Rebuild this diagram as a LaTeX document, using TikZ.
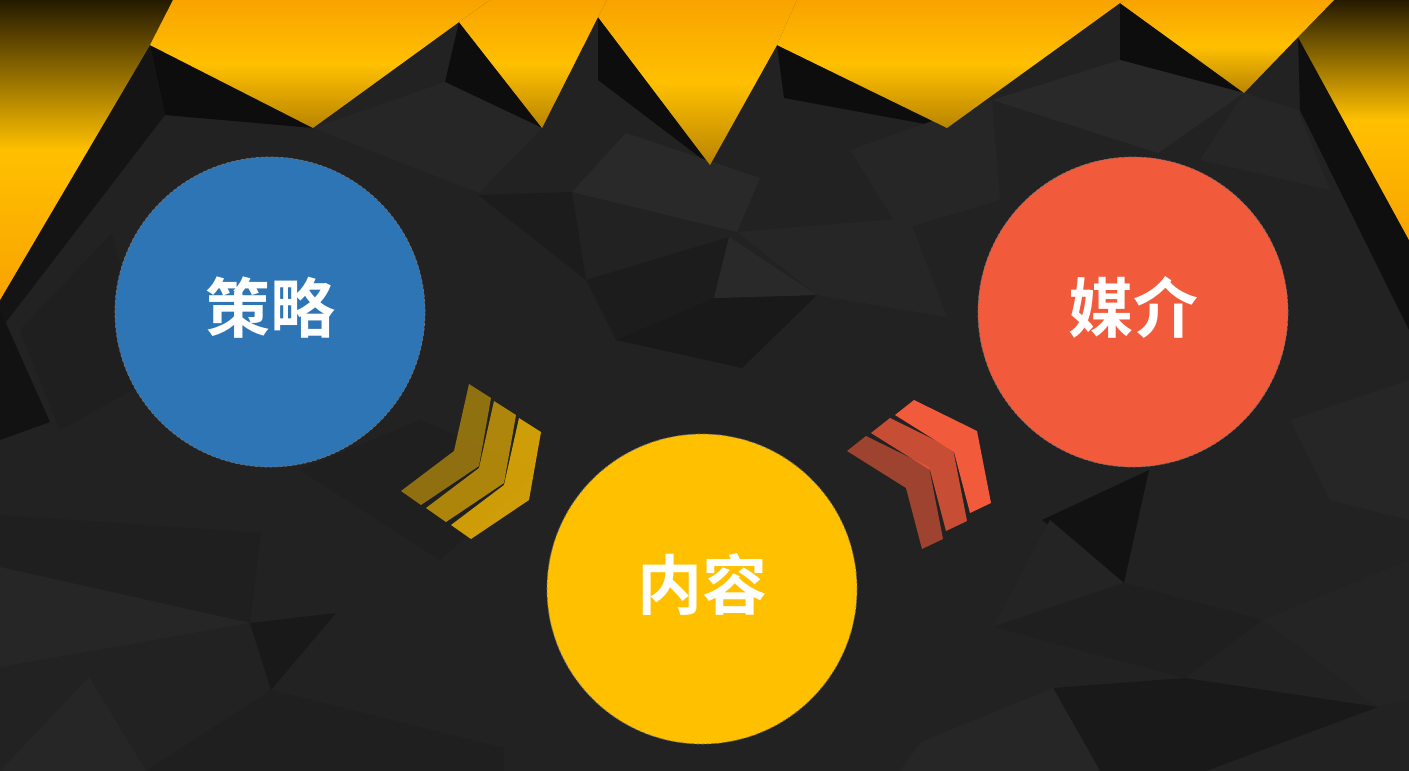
\documentclass[tikz,border=0pt]{standalone}
\usepackage{fontspec}
\newfontfamily\cjk{Noto Sans CJK SC}[BoldFont={Noto Sans CJK SC Bold}]

\definecolor{bggray}{HTML}{222222}
\definecolor{strategyblue}{HTML}{2E75B6}
\definecolor{contentyellow}{HTML}{FFC000}
\definecolor{mediared}{HTML}{F15A3A}
\definecolor{bandorange}{HTML}{F9A300}
\definecolor{banddark}{HTML}{B88400}
\definecolor{stripdark}{HTML}{241A00}

\begin{document}
\begin{tikzpicture}[
x=1pt, y=-1pt,
facet/.style={fill=black!#1},
band_panel/.style={top color=bandorange, bottom color=banddark, middle color=contentyellow},
side_strip/.style={top color=stripdark, bottom color=bandorange, middle color=contentyellow},
big_circle/.style={circle, minimum size=310pt, inner sep=0pt, draw=black!55, densely dashed, line width=0.7pt, text=white, text height=48pt, text depth=8pt, font=\cjk\bfseries\fontsize{65}{70}\selectfont}
]

\useasboundingbox (0,0) rectangle (1409,771);
\fill[bggray] (0,0) rectangle (1409,771);

% low poly background
\fill[facet=95] (150,45) -- (313,128) -- (165,115) -- cycle;
\fill[facet=95] (459,22) -- (542,128) -- (445,82) -- cycle;
\fill[facet=95] (598,17) -- (710,165) -- (598,80) -- cycle;
\fill[facet=95] (777,45) -- (947,128) -- (784,98) -- cycle;
\fill[facet=95] (1120,3) -- (1244,93) -- (1120,60) -- cycle;
\fill[facet=94] (1298,37) -- (1409,240) -- (1409,330) -- (1300,110) -- cycle;
\fill[facet=92] (150,45) -- (165,115) -- (0,330) -- (0,300) -- cycle;
\fill[facet=85] (313,128) -- (445,82) -- (542,128) -- (479,193) -- cycle;
\fill[facet=84] (572,192) -- (626,133) -- (760,178) -- (737,232) -- cycle;
\fill[facet=84] (992,100) -- (1120,60) -- (1244,93) -- (1158,153) -- cycle;
\fill[facet=85] (1244,93) -- (1298,110) -- (1330,190) -- (1200,160) -- cycle;
\fill[facet=89] (478,195) -- (572,192) -- (586,280) -- cycle;
\fill[facet=89] (586,280) -- (729,237) -- (714,298) -- (616,340) -- cycle;
\fill[facet=90] (616,340) -- (714,298) -- (817,295) -- (742,368) -- cycle;
\fill[facet=84] (729,237) -- (817,295) -- (714,298) -- cycle;
\fill[facet=85] (737,232) -- (909,218) -- (947,317) -- (817,295) -- cycle;
\fill[facet=88] (20,330) -- (112,233) -- (150,380) -- (60,430) -- cycle;
\fill[facet=85] (850,150) -- (992,100) -- (1000,200) -- (900,230) -- cycle;
\fill[facet=88] (300,470) -- (420,420) -- (540,470) -- (440,560) -- cycle;
\fill[facet=93] (1042,520) -- (1149,470) -- (1124,583) -- cycle;
\fill[facet=86] (993,627) -- (1050,520) -- (1124,583) -- cycle;
\fill[facet=88] (1124,583) -- (1263,620) -- (1185,678) -- (993,627) -- cycle;
\fill[facet=90] (1053,688) -- (1185,678) -- (1378,707) -- (1206,771) -- (1100,771) -- cycle;
\fill[facet=85] (921,742) -- (1053,688) -- (1100,771) -- (900,771) -- cycle;
\fill[facet=86] (1263,620) -- (1409,560) -- (1409,700) -- (1378,707) -- cycle;
\fill[facet=85] (1290,420) -- (1409,380) -- (1409,520) -- (1330,500) -- cycle;
\fill[facet=93] (0,310) -- (50,422) -- (0,440) -- cycle;
\fill[facet=88] (0,515) -- (261,533) -- (250,623) -- (0,567) -- cycle;
\fill[facet=85] (0,567) -- (250,623) -- (0,667) -- cycle;
\fill[facet=90] (250,623) -- (336,613) -- (271,690) -- cycle;
\fill[facet=85] (0,771) -- (89,677) -- (146,771) -- cycle;
\fill[facet=88] (146,771) -- (271,690) -- (504,748) -- (504,771) -- cycle;

% yellow band on top
\shade[side_strip] (0,0) -- (173,0) -- (150,45) -- (0,300) -- cycle;
\shade[side_strip] (1334,0) -- (1409,0) -- (1409,240) -- (1298,37) -- cycle;
\shade[band_panel] (173,0) -- (490,0) -- (459,22) -- (313,128) -- (150,45) -- cycle;
\shade[band_panel] (490,0) -- (607,0) -- (598,17) -- (542,128) -- (459,22) -- cycle;
\shade[band_panel] (607,0) -- (797,0) -- (777,45) -- (710,165) -- (598,17) -- cycle;
\shade[band_panel] (797,0) -- (1125,0) -- (1120,3) -- (947,128) -- (777,45) -- cycle;
\shade[band_panel] (1125,0) -- (1334,0) -- (1298,37) -- (1244,93) -- (1120,3) -- cycle;

% chevrons
\foreach \i/\op in {0/0.5, 1/0.64, 2/0.78}
  \fill[contentyellow, opacity=\op, shift={(25*\i,17*\i)}] (469,384) -- (491,398) -- (479,466) -- (421,505) -- (401,491) -- (454,451) -- cycle;
\foreach \i/\op in {0/0.6, 1/0.8, 2/1}
  \fill[mediared, opacity=\op, shift={(24*\i,-18*\i)}] (847,451) -- (866,436) -- (929,467) -- (943,539) -- (922,549) -- (906,488) -- cycle;

\node[big_circle, fill=strategyblue](strategy) at (270,312) {策略};
\node[big_circle, fill=contentyellow](content) at (702,589) {内容};
\node[big_circle, fill=mediared](media) at (1133,312) {媒介};

\end{tikzpicture}
\end{document}
